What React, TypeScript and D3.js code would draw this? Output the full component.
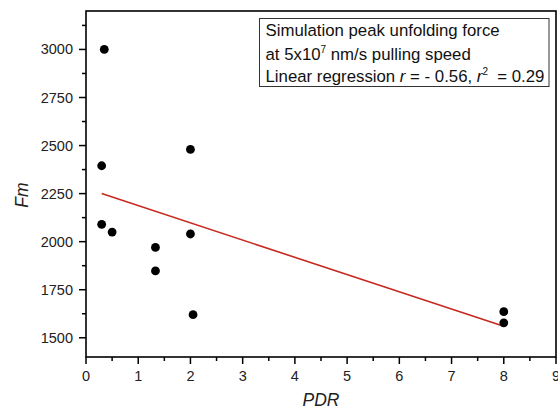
import React from "react";
import * as d3 from "d3";

const pdr = [0.35, 0.3, 2.0, 0.3, 0.5, 1.33, 1.33, 2.0, 2.05, 8.0, 8.0];
const fm = [3000, 2395, 2480, 2090, 2050, 1970, 1848, 2040, 1620, 1636, 1578];
const fitX = [0.3, 8.0];
const fitY = [2250, 1560];
const xMajor = [0, 1, 2, 3, 4, 5, 6, 7, 8, 9];
const xMinor = [0.5, 1.5, 2.5, 3.5, 4.5, 5.5, 6.5, 7.5, 8.5];
const yMajor = [1500, 1750, 2000, 2250, 2500, 2750, 3000];
const yMinor = [1625, 1875, 2125, 2375, 2625, 2875, 3125];

const W = 558;
const H = 411;
const L = 86, R = 556, T = 11, B = 357;
const FONT = "'Liberation Sans', Arial, sans-serif";

export default function App() {
  const x = d3.scaleLinear().domain([0, 9]).range([L, R]);
  const y = d3.scaleLinear().domain([1400, 3200]).range([B, T]);
  const line = d3.line<number>().x((d) => x(fitX[d])).y((d) => y(fitY[d]));

  return (
    <svg
      width={W}
      height={H}
      style={{ position: "fixed", left: 0, top: 0, background: "#fff" }}
      fontFamily={FONT}
    >
      <rect x={0} y={0} width={W} height={H} fill="#fff" />
      {/* frame */}
      <rect x={L} y={T} width={R - L} height={B - T} fill="none" stroke="#000" strokeWidth={1.6} />
      {/* x ticks */}
      {xMajor.map((v) => (
        <g key={"xm" + v}>
          <line x1={x(v)} x2={x(v)} y1={B} y2={B + 7} stroke="#000" strokeWidth={1.5} />
          <text x={x(v)} y={381} textAnchor="middle" fontSize={14.5} fill="#222">
            {v}
          </text>
        </g>
      ))}
      {xMinor.map((v) => (
        <line key={"xn" + v} x1={x(v)} x2={x(v)} y1={B} y2={B + 4} stroke="#000" strokeWidth={1.5} />
      ))}
      {/* y ticks */}
      {yMajor.map((v) => (
        <g key={"ym" + v}>
          <line x1={L} x2={L - 7} y1={y(v)} y2={y(v)} stroke="#000" strokeWidth={1.5} />
          <text x={73} y={y(v) + 5} textAnchor="end" fontSize={14.5} fill="#222">
            {v}
          </text>
        </g>
      ))}
      {yMinor.map((v) => (
        <line key={"yn" + v} x1={L} x2={L - 4} y1={y(v)} y2={y(v)} stroke="#000" strokeWidth={1.5} />
      ))}
      {/* axis titles */}
      <text x={(L + R) / 2} y={406} textAnchor="middle" fontSize={17.5} fontStyle="italic" fill="#222">
        PDR
      </text>
      <text
        transform={`translate(28,${195}) rotate(-90)`}
        textAnchor="middle"
        fontSize={17.5}
        fontStyle="italic"
        fill="#222"
      >
        Fm
      </text>
      {/* regression line */}
      <path d={line([0, 1]) || ""} fill="none" stroke="#c8281e" strokeWidth={1.6} />
      {/* points */}
      {pdr.map((v, i) => (
        <circle key={"p" + i} cx={x(v)} cy={y(fm[i])} r={4.4} fill="#000" />
      ))}
      {/* legend */}
      <rect x={259.5} y={18.5} width={289.5} height={68} fill="#fff" stroke="#333" strokeWidth={1} />
      <g fontSize={16.8} fill="#111">
        <text x={265.5} y={35.5}>Simulation peak unfolding force</text>
        <text x={265.5} y={59.5}>
          at 5x10
          <tspan fontSize={10} dy={-7}>7</tspan>
          <tspan dy={7}> nm/s pulling speed</tspan>
        </text>
        <text x={265.5} y={81.5}>
          Linear regression <tspan fontStyle="italic">r</tspan> = - 0.56,{" "}
          <tspan fontStyle="italic">r</tspan>
          <tspan fontSize={10} dy={-7}>2</tspan>
          <tspan dy={7}>{"\u00a0 = 0.29"}</tspan>
        </text>
      </g>
    </svg>
  );
}
